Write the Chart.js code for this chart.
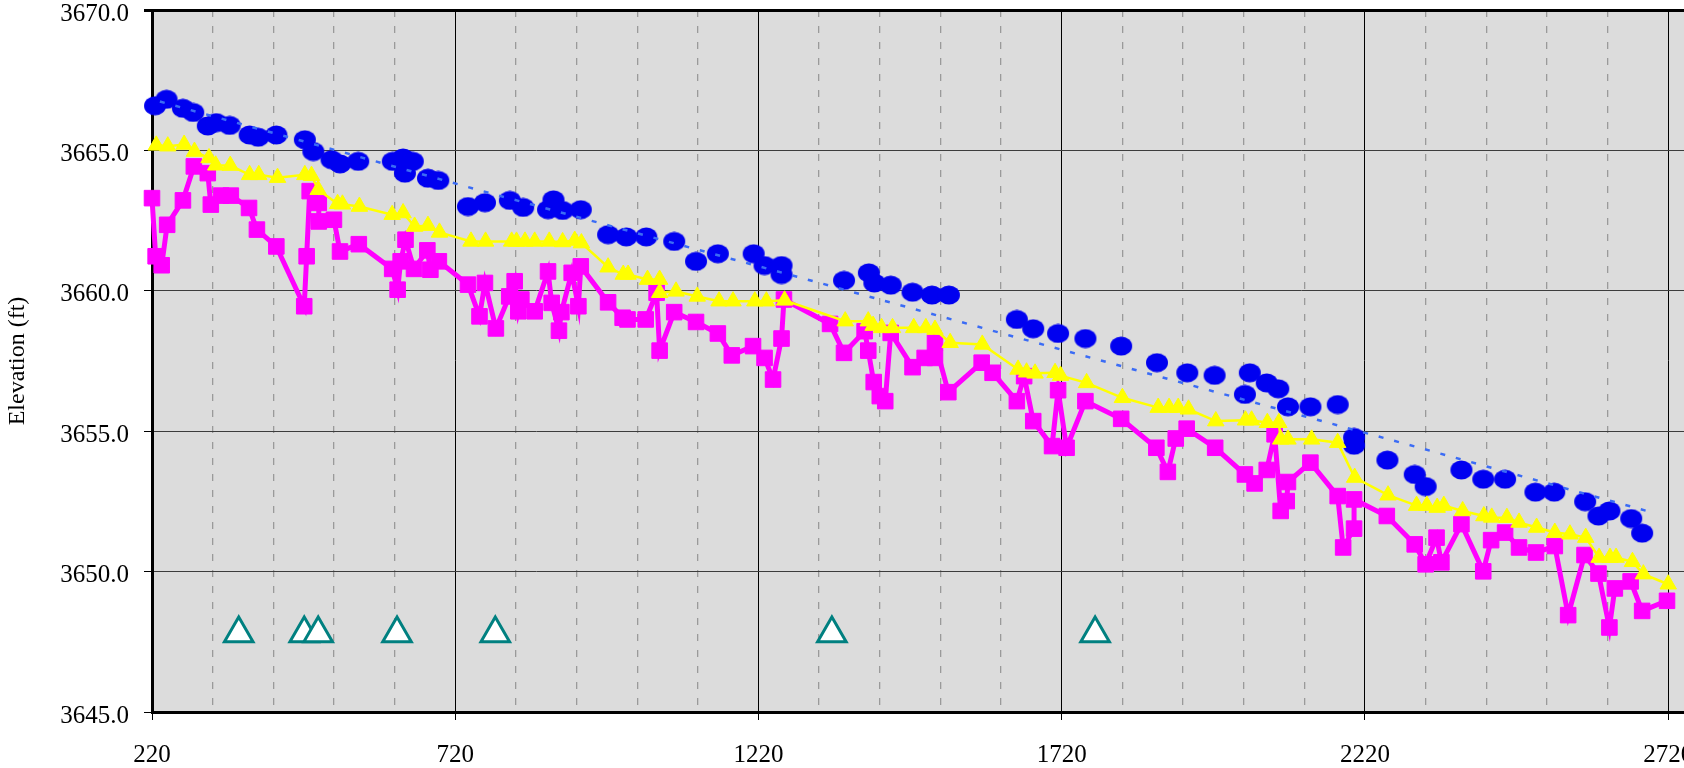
<!DOCTYPE html>
<html>
<head>
<meta charset="utf-8">
<script src="https://cdn.jsdelivr.net/npm/chart.js@4"></script>
<style>
  body { margin: 0; background: #ffffff; }
  canvas { display: block; }
</style>
</head>
<body>
<canvas id="myChart" width="1684" height="768"></canvas>
<script>
// Axis ticks
var xTicks = [220, 720, 1220, 1720, 2220, 2720];
var xMinorTicks = [320, 420, 520, 620, 820, 920, 1020, 1120, 1320, 1420, 1520, 1620,
    1820, 1920, 2020, 2120, 2320, 2420, 2520, 2620];
var yTicks = [3645, 3650, 3655, 3660, 3665, 3670];

// Blue ellipses (no line)
var blueX = [225, 244, 271, 288, 312, 326, 348, 381, 395, 425, 472, 486, 516, 530, 560, 617, 634, 650, 637, 675,
    692, 741, 769, 810, 832, 873, 882, 897, 927, 972, 1002, 1035, 1081, 1117, 1153, 1212, 1230, 1258, 1258, 1361,
    1402, 1411, 1438, 1474, 1506, 1534, 1646, 1673, 1714, 1759, 1818, 1877, 1927, 1972, 2030, 2022, 2058, 2077, 2093, 2130,
    2175, 2202, 2202, 2257, 2302, 2320, 2379, 2415, 2451, 2501, 2532, 2583, 2605, 2623, 2659, 2677];
var blueY = [3666.59, 3666.82, 3666.50, 3666.35, 3665.87, 3665.99, 3665.89, 3665.55, 3665.47, 3665.55,
    3665.38, 3664.96, 3664.67, 3664.52, 3664.61, 3664.61, 3664.73, 3664.61, 3664.19, 3664.01,
    3663.93, 3663.00, 3663.14, 3663.22, 3662.97, 3662.89, 3663.24, 3662.86, 3662.89, 3662.00,
    3661.92, 3661.92, 3661.76, 3661.05, 3661.32, 3661.32, 3660.90, 3660.90, 3660.58, 3660.37,
    3660.64, 3660.28, 3660.20, 3659.95, 3659.85, 3659.85, 3658.98, 3658.65, 3658.48, 3658.30,
    3658.03, 3657.44, 3657.08, 3656.99, 3657.08, 3656.31, 3656.72, 3656.51, 3655.87, 3655.87,
    3655.95, 3654.78, 3654.50, 3653.97, 3653.46, 3653.03, 3653.62, 3653.29, 3653.29, 3652.83,
    3652.83, 3652.49, 3651.98, 3652.16, 3651.89, 3651.37];

// Blue dotted trend line
var trendX = [233, 497, 777, 1321, 1634, 1948, 2283, 2698];
var trendY = [3666.74, 3665.16, 3663.48, 3660.28, 3658.41, 3656.55, 3654.57, 3652.08];

// Yellow triangles with thin line
var yellowX = [227, 246, 273, 290, 314, 325, 349, 381, 396, 427, 472, 483, 494, 526, 534, 562, 616, 634, 653, 675,
    694, 746, 770, 813, 821, 835, 851, 875, 897, 917, 928, 972, 997, 1005, 1037, 1057, 1057, 1084, 1119, 1155,
    1178, 1214, 1233, 1263, 1363, 1401, 1409, 1423, 1441, 1476, 1496, 1511, 1536, 1589, 1648, 1662, 1676, 1709, 1718, 1761,
    1820, 1879, 1897, 1912, 1929, 1974, 2023, 2033, 2059, 2078, 2081, 2093, 2132, 2175, 2203, 2258, 2305, 2322, 2339, 2350,
    2381, 2416, 2429, 2454, 2474, 2503, 2533, 2558, 2584, 2606, 2624, 2634, 2661, 2679, 2720];
var yellowY = [3665.18, 3665.15, 3665.21, 3664.96, 3664.73, 3664.47, 3664.46, 3664.13, 3664.13, 3664.03,
    3664.13, 3664.10, 3663.60, 3663.10, 3663.08, 3663.00, 3662.71, 3662.77, 3662.29, 3662.32,
    3662.08, 3661.76, 3661.76, 3661.76, 3661.76, 3661.76, 3661.76, 3661.76, 3661.74, 3661.79,
    3661.70, 3660.84, 3660.58, 3660.58, 3660.40, 3660.40, 3659.93, 3659.98, 3659.80, 3659.63,
    3659.63, 3659.63, 3659.63, 3659.66, 3658.92, 3658.92, 3658.76, 3658.68, 3658.68, 3658.68,
    3658.68, 3658.62, 3658.15, 3658.09, 3657.20, 3657.10, 3657.06, 3657.08, 3656.98, 3656.72,
    3656.19, 3655.84, 3655.84, 3655.84, 3655.78, 3655.36, 3655.39, 3655.39, 3655.30, 3655.30,
    3654.71, 3654.71, 3654.71, 3654.59, 3653.35, 3652.72, 3652.35, 3652.35, 3652.28, 3652.35,
    3652.16, 3651.98, 3651.93, 3651.92, 3651.75, 3651.57, 3651.39, 3651.33, 3651.21, 3650.50,
    3650.50, 3650.50, 3650.35, 3649.91, 3649.55];

// Magenta squares with thick line
var magentaX = [220, 226, 236, 245, 271, 289, 312, 317, 334, 350, 380, 393, 425, 471, 475, 480, 495, 495, 520, 530,
    561, 616, 625, 630, 638, 652, 674, 679, 693, 741, 760, 769, 787, 809, 818, 824, 829, 851, 873, 879,
    891, 895, 912, 923, 927, 972, 996, 1004, 1034, 1052, 1057, 1081, 1117, 1153, 1176, 1211, 1230, 1244, 1258, 1262,
    1338, 1361, 1395, 1401, 1410, 1420, 1429, 1438, 1474, 1494, 1511, 1511, 1533, 1588, 1606, 1646, 1658, 1673, 1704, 1714,
    1728, 1759, 1818, 1876, 1895, 1908, 1926, 1973, 2022, 2038, 2058, 2071, 2081, 2091, 2093, 2130, 2175, 2184, 2202, 2202,
    2256, 2302, 2320, 2338, 2346, 2379, 2415, 2428, 2451, 2474, 2502, 2533, 2555, 2582, 2605, 2623, 2632, 2658, 2677, 2718];
var magentaY = [3663.30, 3661.23, 3660.91, 3662.35, 3663.22, 3664.43, 3664.19, 3663.07, 3663.39, 3663.39,
    3662.95, 3662.18, 3661.58, 3659.45, 3661.23, 3663.55, 3663.13, 3662.47, 3662.53, 3661.40,
    3661.66, 3660.78, 3660.04, 3661.05, 3661.82, 3660.78, 3661.44, 3660.75, 3661.05, 3660.22,
    3659.09, 3660.28, 3658.66, 3659.80, 3660.34, 3659.27, 3659.69, 3659.27, 3660.69, 3659.57,
    3658.58, 3659.24, 3660.64, 3659.45, 3660.87, 3659.59, 3659.04, 3658.98, 3658.98, 3659.93,
    3657.87, 3659.24, 3658.89, 3658.48, 3657.70, 3658.03, 3657.61, 3656.84, 3658.30, 3659.69,
    3658.82, 3657.79, 3658.56, 3657.87, 3656.75, 3656.25, 3656.07, 3658.50, 3657.28, 3657.61,
    3657.61, 3658.15, 3656.39, 3657.44, 3657.08, 3656.07, 3656.96, 3655.36, 3654.47, 3656.46,
    3654.41, 3656.07, 3655.44, 3654.41, 3653.55, 3654.74, 3655.09, 3654.41, 3653.46, 3653.14,
    3653.62, 3654.89, 3652.16, 3652.51, 3653.19, 3653.88, 3652.69, 3650.86, 3651.53, 3652.57,
    3651.98, 3650.97, 3650.26, 3651.21, 3650.33, 3651.69, 3650.01, 3651.12, 3651.39, 3650.86,
    3650.68, 3650.91, 3648.45, 3650.59, 3649.93, 3648.01, 3649.40, 3649.65, 3648.60, 3648.96];

// Teal open triangles along the bottom
var tealX = [363, 471, 494, 624, 786, 1341, 1775];
var tealY = [3647.8, 3647.8, 3647.8, 3647.8, 3647.8, 3647.8, 3647.8];

function toPoints(xs, ys) {
    return xs.map(function (x, i) {
        return { x: x, y: ys[i] };
    });
}

// Ellipse marker for the blue series
var ellipse = document.createElement('canvas');
ellipse.width = 24;
ellipse.height = 20;
var ec = ellipse.getContext('2d');
ec.fillStyle = '#0000f0';
ec.beginPath();
ec.ellipse(12, 10, 11, 9.6, 0, 0, 2 * Math.PI);
ec.fill();

// Grey plot background
var plotBackground = {
    id: 'plotBackground',
    beforeDraw: function (chart) {
        var a = chart.chartArea;
        var ctx = chart.ctx;
        ctx.save();
        ctx.fillStyle = '#dcdcdc';
        ctx.fillRect(a.left, a.top, a.right - a.left, a.bottom - a.top);
        ctx.restore();
    }
};

var serif = 'Liberation Serif';

var ctx = document.getElementById('myChart').getContext('2d');
var chart = new Chart(ctx, {
    type: 'line',
    data: {
        datasets: [
            {
                label: 'Teal',
                data: toPoints(tealX, tealY),
                showLine: false,
                pointStyle: 'triangle',
                pointRadius: 16.5,
                pointBackgroundColor: '#ffffff',
                pointBorderColor: '#008080',
                pointBorderWidth: 3,
                clip: false,
                order: 0
            },
            {
                label: 'Yellow',
                data: toPoints(yellowX, yellowY),
                borderColor: '#ffff00',
                borderWidth: 2.5,
                pointStyle: 'triangle',
                pointRadius: 9.5,
                pointBackgroundColor: '#ffff00',
                pointBorderColor: '#ffff00',
                pointBorderWidth: 1,
                clip: false,
                order: 1
            },
            {
                label: 'Magenta',
                data: toPoints(magentaX, magentaY),
                borderColor: '#ff00ff',
                borderWidth: 5,
                pointStyle: 'rect',
                pointRadius: 11,
                pointBackgroundColor: '#ff00ff',
                pointBorderColor: '#ff00ff',
                pointBorderWidth: 1,
                clip: false,
                order: 2
            },
            {
                label: 'Trend',
                data: toPoints(trendX, trendY),
                borderColor: '#3b6cf5',
                borderWidth: 2.5,
                borderDash: [5, 11],
                pointRadius: 0,
                order: 3
            },
            {
                label: 'Blue',
                data: toPoints(blueX, blueY),
                showLine: false,
                pointStyle: ellipse,
                pointRadius: 10,
                clip: false,
                order: 4
            }
        ]
    },
    options: {
        responsive: false,
        animation: false,
        devicePixelRatio: 1,
        layout: { autoPadding: false, padding: { top: 10, right: 0, bottom: 0, left: 0 } },
        plugins: {
            legend: { display: false },
            tooltip: { enabled: false }
        },
        scales: {
            x: {
                type: 'linear',
                position: 'bottom',
                min: 220,
                max: 2746,
                afterBuildTicks: function (axis) {
                    axis.ticks = xTicks.map(function (v) { return { value: v }; });
                },
                afterFit: function (axis) {
                    axis.height = 56;
                    axis.paddingLeft = 0;
                    axis.paddingRight = 0;
                },
                grid: {
                    color: '#000000',
                    lineWidth: 1,
                    tickLength: 8,
                    tickColor: '#000000'
                },
                border: { color: '#000000', width: 3 },
                ticks: {
                    padding: 20,
                    maxRotation: 0,
                    autoSkip: false,
                    color: '#000000',
                    font: { family: serif, size: 25 },
                    callback: function (v) { return String(v); }
                }
            },
            xMinor: {
                type: 'linear',
                position: 'bottom',
                min: 220,
                max: 2746,
                afterBuildTicks: function (axis) {
                    axis.ticks = xMinorTicks.map(function (v) { return { value: v }; });
                },
                afterFit: function (axis) {
                    axis.height = 0;
                    axis.paddingLeft = 0;
                    axis.paddingRight = 0;
                },
                grid: {
                    color: '#9a9a9a',
                    lineWidth: 1.3,
                    drawTicks: false
                },
                border: { display: false, dash: [7, 9] },
                ticks: { display: false }
            },
            y: {
                type: 'linear',
                min: 3645,
                max: 3670,
                afterBuildTicks: function (axis) {
                    axis.ticks = yTicks.map(function (v) { return { value: v }; });
                },
                afterFit: function (axis) {
                    axis.width = 152;
                    axis.paddingTop = 0;
                    axis.paddingBottom = 0;
                },
                grid: {
                    color: function (c) {
                        return c.tick && c.tick.value === 3670 ? '#000000' : '#3c3c3c';
                    },
                    lineWidth: function (c) {
                        return c.tick && c.tick.value === 3670 ? 3 : 1;
                    },
                    tickLength: 8,
                    tickColor: '#000000'
                },
                border: { color: '#000000', width: 3 },
                ticks: {
                    padding: 15,
                    labelOffset: 4,
                    color: '#000000',
                    font: { family: serif, size: 25 },
                    callback: function (v) { return v.toFixed(1); }
                },
                title: {
                    display: true,
                    text: 'Elevation (ft)',
                    color: '#000000',
                    font: { family: serif, size: 24 },
                    padding: { top: 3, bottom: 4 }
                }
            }
        }
    },
    plugins: [plotBackground]
});
</script>
</body>
</html>
